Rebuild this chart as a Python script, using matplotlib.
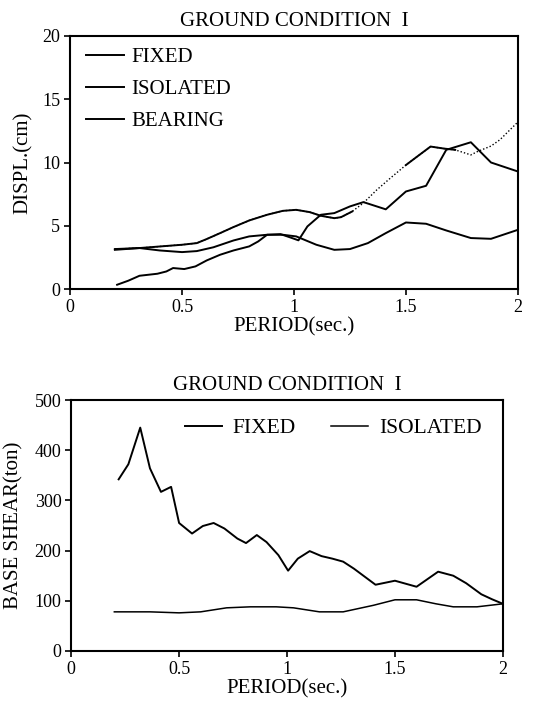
import numpy as np
import matplotlib
matplotlib.use('Agg')
import matplotlib.pyplot as plt

plt.rcParams['font.family'] = ['Liberation Serif', 'DejaVu Serif']

# --- top plot: displacement ---
fixed_T = [0.21, 0.26, 0.31, 0.39, 0.43, 0.46, 0.51, 0.56, 0.61, 0.67, 0.73, 0.80, 0.84, 0.88,
           0.94, 0.98, 1.02, 1.06, 1.12, 1.18, 1.25, 1.31, 1.41, 1.50, 1.59, 1.68, 1.79, 1.88, 2.0]
fixed_D = [0.34, 0.66, 1.05, 1.21, 1.39, 1.66, 1.58, 1.79, 2.26, 2.71, 3.05, 3.37, 3.76, 4.29,
           4.34, 4.10, 3.85, 4.95, 5.87, 6.0, 6.53, 6.87, 6.3, 7.71, 8.16, 11.0, 11.6, 10.0, 9.29]

iso_T = [0.2, 0.31, 0.5, 0.566, 0.61, 0.67, 0.73, 0.80, 0.88, 0.95, 1.01, 1.07, 1.12, 1.18,
         1.21, 1.26, 1.31, 1.37, 1.43, 1.50, 1.56, 1.61, 1.67, 1.72, 1.79, 1.82, 1.88, 1.92, 2.0]
iso_D = [3.16, 3.24, 3.5, 3.63, 3.95, 4.42, 4.9, 5.42, 5.87, 6.18, 6.26, 6.08, 5.79, 5.6,
         5.68, 6.13, 6.8, 7.84, 8.76, 9.8, 10.6, 11.26, 11.1, 11.0, 10.6, 10.87, 11.3, 11.8, 13.2]

bear_T = [0.2, 0.31, 0.40, 0.5, 0.566, 0.64, 0.73, 0.80, 0.88, 0.95, 1.01, 1.10, 1.18, 1.25,
          1.33, 1.41, 1.50, 1.59, 1.68, 1.79, 1.88, 2.0]
bear_D = [3.1, 3.24, 3.05, 2.92, 3.0, 3.3, 3.84, 4.16, 4.29, 4.29, 4.16, 3.5, 3.1, 3.16,
          3.63, 4.42, 5.26, 5.16, 4.63, 4.03, 3.97, 4.68]

# --- bottom plot: base shear ---
shear_fixed_T = [0.22, 0.265, 0.32, 0.365, 0.416, 0.463, 0.50, 0.56, 0.61, 0.66, 0.71, 0.77,
                 0.81, 0.86, 0.905, 0.96, 1.005, 1.05, 1.105, 1.16, 1.21, 1.26, 1.31, 1.41,
                 1.50, 1.60, 1.70, 1.77, 1.83, 1.90, 1.95, 2.0]
shear_fixed_V = [342, 372, 445, 364, 317, 327, 255, 234, 249, 255, 244, 224,
                 215, 231, 217, 191, 160, 184, 199, 189, 184, 178, 164, 132,
                 140, 128, 158, 150, 135, 113, 103, 94]

shear_iso_T = [0.2, 0.365, 0.5, 0.6, 0.72, 0.83, 0.95, 1.03, 1.15, 1.26, 1.40, 1.50, 1.60,
               1.69, 1.77, 1.88, 2.0]
shear_iso_V = [78, 78, 76, 78, 86, 88, 88, 86, 78, 78, 91, 102, 102, 94, 88, 88, 94]

fig = plt.figure(figsize=(5.35, 7.05), dpi=100)
ax1 = fig.add_axes([0.131, 0.590, 0.837, 0.359])
ax2 = fig.add_axes([0.133, 0.0766, 0.807, 0.356])

lw = 1.4
# top
ax1.plot(fixed_T, fixed_D, color='black', lw=lw, label='FIXED')
iso_T_arr = np.array(iso_T)
iso_D_arr = np.array(iso_D)
# the isolated curve is printed partly dotted
solid = (iso_T_arr <= 1.26) | ((iso_T_arr >= 1.5) & (iso_T_arr <= 1.72))
ax1.plot(iso_T_arr, iso_D_arr, color='black', lw=1.0, ls=(0, (1, 1.5)))
ax1.plot(iso_T_arr, np.ma.masked_where(~solid, iso_D_arr), color='black', lw=lw, label='ISOLATED')
ax1.plot(bear_T, bear_D, color='black', lw=lw, label='BEARING')

ax1.set_xlim(0, 2)
ax1.set_ylim(0, 20)
ax1.set_xticks([0, 0.5, 1, 1.5, 2], ['0', '0.5', '1', '1.5', '2'])
ax1.set_yticks([0, 5, 10, 15, 20])
ax1.set_title('GROUND CONDITION  I', fontsize=15, pad=7)
ax1.set_xlabel('PERIOD(sec.)', fontsize=15, labelpad=1)
ax1.set_ylabel('DISPL.(cm)', fontsize=15, labelpad=7)
ax1.legend(loc='upper left', bbox_to_anchor=(0.011, 1.0), frameon=False, fontsize=15,
           handlelength=1.8, handletextpad=0.35, labelspacing=0.6, borderpad=0.05)

# bottom
ax2.plot(shear_fixed_T, shear_fixed_V, color='black', lw=lw, label='FIXED')
ax2.plot(shear_iso_T, shear_iso_V, color='black', lw=1.1, label='ISOLATED')
ax2.set_xlim(0, 2)
ax2.set_ylim(0, 500)
ax2.set_xticks([0, 0.5, 1, 1.5, 2], ['0', '0.5', '1', '1.5', '2'])
ax2.set_yticks([0, 100, 200, 300, 400, 500])
ax2.set_title('GROUND CONDITION  I', fontsize=15, pad=7)
ax2.set_xlabel('PERIOD(sec.)', fontsize=15, labelpad=1)
ax2.set_ylabel('BASE SHEAR(ton)', fontsize=15, labelpad=8)
ax2.legend(loc='upper left', bbox_to_anchor=(0.222, 1.0), frameon=False, fontsize=15.5, ncol=2,
           handlelength=1.7, handletextpad=0.5, columnspacing=1.65, borderpad=0.35)

for ax in (ax1, ax2):
    for s in ax.spines.values():
        s.set_linewidth(1.5)
    ax.tick_params(direction='out', length=4, width=1.2, labelsize=13, pad=3)

fig.savefig('out.png', dpi=100, facecolor='white')
